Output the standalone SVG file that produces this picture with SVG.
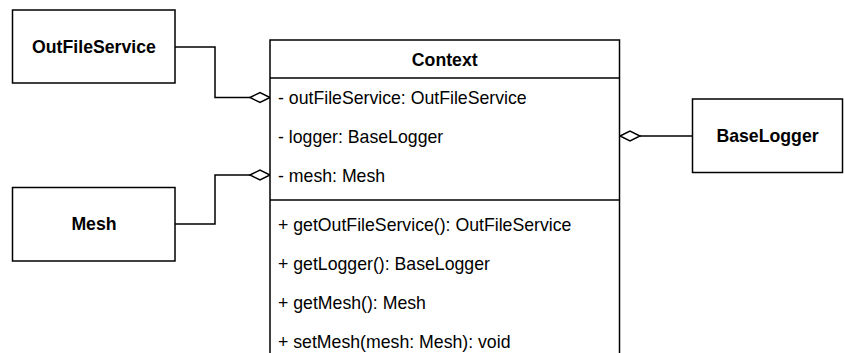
<svg xmlns="http://www.w3.org/2000/svg" width="845" height="353" viewBox="0 0 845 353">
<style>
.box{fill:#fff;stroke:#000;stroke-width:1.5}
.line{fill:none;stroke:#000;stroke-width:1.5}
.dia{fill:#fff;stroke:#000;stroke-width:1.5}
text{font-family:"Liberation Sans",Arial,sans-serif;font-size:17.7px;fill:#000}
.b{font-weight:bold;text-anchor:middle}
</style>
<rect width="845" height="353" fill="#fff"/>
<g id="connectors">
<polyline class="line" points="175,47 215,47 215,97.5 250,97.5"/>
<path class="dia" d="M250,97.5 L260,92.5 L270,97.5 L260,102.5 Z"/>
<polyline class="line" points="175,224 215,224 215,175 250,175"/>
<path class="dia" d="M250,175 L260,170 L270,175 L260,180 Z"/>
<line class="line" x1="640" y1="136" x2="692.5" y2="136"/>
<path class="dia" d="M620,136 L630,131 L640,136 L630,141 Z"/>
</g>
<g id="OutFileService">
<rect class="box" x="12.5" y="10" width="162.5" height="73"/>
<text class="b" x="94" y="53">OutFileService</text>
</g>
<g id="Mesh">
<rect class="box" x="12.5" y="187.5" width="162.5" height="73.5"/>
<text class="b" x="94" y="230">Mesh</text>
</g>
<g id="BaseLogger">
<rect class="box" x="692.5" y="99" width="150" height="73.5"/>
<text class="b" x="767.5" y="142">BaseLogger</text>
</g>
<g id="Context">
<rect class="box" x="270" y="40" width="349.5" height="330"/>
<line class="line" x1="270" y1="78" x2="619.5" y2="78"/>
<line class="line" x1="270" y1="200" x2="619.5" y2="200"/>
<text class="b" x="444.75" y="66">Context</text>
<text x="278" y="104">- outFileService: OutFileService</text>
<text x="278" y="143">- logger: BaseLogger</text>
<text x="278" y="182">- mesh: Mesh</text>
<text x="278" y="231">+ getOutFileService(): OutFileService</text>
<text x="278" y="270">+ getLogger(): BaseLogger</text>
<text x="278" y="309">+ getMesh(): Mesh</text>
<text x="278" y="348">+ setMesh(mesh: Mesh): void</text>
</g>
</svg>
